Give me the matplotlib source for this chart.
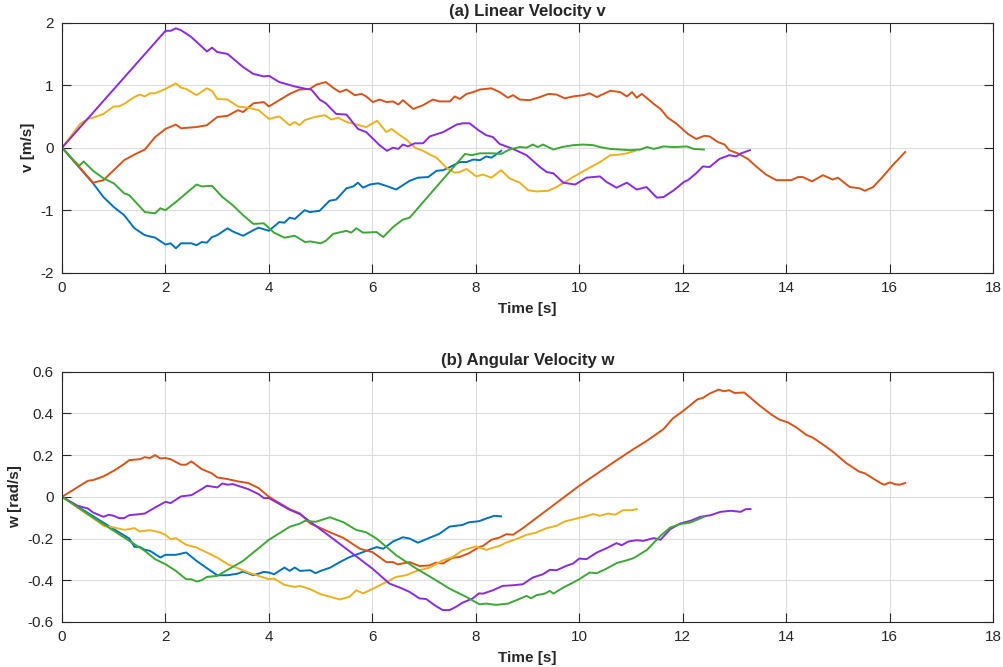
import numpy as np
import matplotlib
matplotlib.use('Agg')
from matplotlib import pyplot as plt
from matplotlib import ticker

plt.rcParams['font.family'] = ['Liberation Sans', 'DejaVu Sans']
plt.rcParams['axes.unicode_minus'] = False

# (t [s], v [m/s])
v_blue = [(0, 0), (0.6, -0.57), (0.8, -0.79), (1.0, -0.95), (1.2, -1.08), (1.4, -1.29), (1.6, -1.40),
          (1.8, -1.44), (2.0, -1.55), (2.1, -1.53), (2.2, -1.61), (2.3, -1.53), (2.5, -1.53), (2.6, -1.56),
          (2.7, -1.51), (2.8, -1.52), (2.9, -1.43), (3.0, -1.40), (3.2, -1.29), (3.3, -1.34), (3.5, -1.41),
          (3.7, -1.32), (3.8, -1.28), (4.0, -1.33), (4.2, -1.19), (4.3, -1.20), (4.4, -1.12), (4.5, -1.14),
          (4.69, -1.0), (4.79, -1.03), (4.98, -1.01), (5.17, -0.85), (5.3, -0.83), (5.5, -0.65), (5.63, -0.62),
          (5.72, -0.56), (5.82, -0.64), (5.95, -0.59), (6.11, -0.57), (6.3, -0.62), (6.46, -0.67), (6.72, -0.53),
          (6.88, -0.48), (7.08, -0.47), (7.24, -0.37), (7.37, -0.36), (7.5, -0.31), (7.69, -0.23), (7.82, -0.23),
          (7.95, -0.19), (8.08, -0.20), (8.2, -0.14), (8.3, -0.16), (8.39, -0.11), (8.49, -0.05)]
v_orange = [(0, 0), (0.6, -0.56), (0.8, -0.52), (1.0, -0.36), (1.2, -0.20), (1.4, -0.11), (1.6, -0.03),
            (1.8, 0.17), (2.0, 0.30), (2.2, 0.37), (2.3, 0.31), (2.6, 0.33), (2.8, 0.36), (3.0, 0.49), (3.2, 0.51),
            (3.4, 0.60), (3.5, 0.57), (3.7, 0.71), (3.9, 0.73), (4.0, 0.66), (4.2, 0.76), (4.4, 0.86), (4.59, 0.93),
            (4.79, 0.94), (4.92, 1.01), (5.1, 1.05), (5.24, 0.96), (5.37, 0.89), (5.5, 0.93), (5.66, 0.84),
            (5.79, 0.86), (5.88, 0.82), (6.01, 0.73), (6.14, 0.77), (6.27, 0.73), (6.4, 0.74), (6.5, 0.69),
            (6.59, 0.76), (6.79, 0.62), (6.98, 0.68), (7.17, 0.77), (7.3, 0.74), (7.5, 0.74), (7.59, 0.82),
            (7.69, 0.78), (7.82, 0.86), (7.95, 0.89), (8.08, 0.93), (8.3, 0.95), (8.46, 0.89), (8.62, 0.80),
            (8.72, 0.84), (8.85, 0.77), (9.04, 0.76), (9.24, 0.81), (9.4, 0.86), (9.56, 0.85), (9.72, 0.79),
            (9.88, 0.82), (10.08, 0.84), (10.2, 0.87), (10.34, 0.81), (10.6, 0.91), (10.79, 0.89), (10.92, 0.82),
            (11.02, 0.89), (11.11, 0.80), (11.21, 0.86), (11.44, 0.70), (11.57, 0.62), (11.71, 0.48), (11.87, 0.39),
            (12.1, 0.22), (12.26, 0.14), (12.42, 0.19), (12.52, 0.18), (12.68, 0.09), (12.81, 0.05), (12.9, -0.04),
            (13.06, -0.09), (13.26, -0.18), (13.42, -0.30), (13.61, -0.43), (13.81, -0.52), (14.1, -0.52),
            (14.23, -0.47), (14.32, -0.47), (14.5, -0.54), (14.71, -0.44), (14.9, -0.51), (15.0, -0.48),
            (15.23, -0.63), (15.42, -0.65), (15.52, -0.69), (15.68, -0.63), (15.84, -0.49), (16.06, -0.28),
            (16.3, -0.07)]
v_yellow = [(0, 0), (0.35, 0.38), (0.5, 0.46), (0.6, 0.48), (0.8, 0.54), (1.0, 0.66), (1.1, 0.66), (1.2, 0.70),
            (1.4, 0.81), (1.5, 0.85), (1.6, 0.82), (1.7, 0.87), (1.8, 0.87), (2.0, 0.94), (2.2, 1.03), (2.3, 0.96),
            (2.4, 0.94), (2.6, 0.84), (2.8, 0.95), (2.9, 0.91), (3.0, 0.78), (3.2, 0.77), (3.4, 0.66), (3.6, 0.64),
            (3.8, 0.60), (4.0, 0.46), (4.2, 0.50), (4.4, 0.36), (4.5, 0.41), (4.59, 0.36), (4.69, 0.44),
            (4.88, 0.49), (5.08, 0.52), (5.21, 0.45), (5.34, 0.48), (5.5, 0.41), (5.69, 0.37), (5.88, 0.33),
            (6.09, 0.43), (6.27, 0.25), (6.37, 0.30), (6.53, 0.20), (6.66, 0.13), (6.82, 0.0), (6.98, -0.05),
            (7.11, -0.11), (7.24, -0.16), (7.43, -0.32), (7.59, -0.40), (7.69, -0.39), (7.82, -0.34), (8.01, -0.46),
            (8.14, -0.43), (8.3, -0.48), (8.49, -0.36), (8.65, -0.49), (8.85, -0.56), (9.01, -0.68), (9.17, -0.70),
            (9.4, -0.69), (9.56, -0.63), (9.72, -0.55), (9.88, -0.47), (10.05, -0.39), (10.2, -0.32), (10.4, -0.23),
            (10.6, -0.12), (10.79, -0.11), (10.92, -0.09), (11.08, -0.05)]
v_purple = [(0, 0), (2.0, 1.87), (2.1, 1.87), (2.2, 1.91), (2.3, 1.88), (2.5, 1.77), (2.8, 1.54), (2.9, 1.60),
            (3.0, 1.53), (3.2, 1.50), (3.5, 1.29), (3.7, 1.18), (3.9, 1.14), (4.0, 1.15), (4.2, 1.05), (4.5, 0.98),
            (4.72, 0.94), (4.82, 0.93), (4.98, 0.77), (5.1, 0.71), (5.3, 0.54), (5.5, 0.53), (5.72, 0.30),
            (5.88, 0.25), (6.14, 0.04), (6.28, -0.05), (6.4, 0.0), (6.5, -0.02), (6.59, 0.05), (6.69, 0.02),
            (6.82, 0.07), (6.98, 0.07), (7.11, 0.18), (7.37, 0.25), (7.63, 0.37), (7.75, 0.39), (7.88, 0.39),
            (8.05, 0.28), (8.2, 0.20), (8.33, 0.17), (8.46, 0.06), (8.72, -0.02), (8.98, -0.12), (9.24, -0.31),
            (9.37, -0.39), (9.5, -0.41), (9.69, -0.56), (9.92, -0.59), (10.14, -0.48), (10.4, -0.46), (10.53, -0.55),
            (10.72, -0.64), (10.92, -0.56), (11.11, -0.67), (11.3, -0.63), (11.5, -0.80), (11.63, -0.79),
            (11.83, -0.68), (12.02, -0.55), (12.1, -0.52), (12.26, -0.41), (12.39, -0.30), (12.52, -0.31),
            (12.71, -0.18), (12.9, -0.12), (13.03, -0.14), (13.13, -0.09), (13.3, -0.04)]
v_green = [(0, 0), (0.2, -0.18), (0.33, -0.29), (0.42, -0.22), (0.6, -0.37), (0.8, -0.49), (1.0, -0.57),
           (1.2, -0.73), (1.3, -0.76), (1.6, -1.03), (1.8, -1.05), (1.9, -0.97), (2.0, -1.0), (2.2, -0.87),
           (2.4, -0.73), (2.6, -0.59), (2.7, -0.62), (2.9, -0.61), (3.1, -0.79), (3.3, -0.92), (3.5, -1.08),
           (3.7, -1.22), (3.9, -1.21), (4.1, -1.36), (4.3, -1.44), (4.5, -1.41), (4.7, -1.51), (4.8, -1.50),
           (5.0, -1.53), (5.1, -1.49), (5.24, -1.38), (5.5, -1.33), (5.59, -1.36), (5.69, -1.29), (5.82, -1.36),
           (6.08, -1.35), (6.21, -1.43), (6.4, -1.27), (6.59, -1.15), (6.72, -1.12), (7.79, -0.10), (7.92, -0.12),
           (8.08, -0.09), (8.33, -0.09), (8.49, -0.10), (8.65, -0.03), (8.85, 0.01), (8.98, 0.0), (9.1, 0.05),
           (9.2, 0.01), (9.3, 0.05), (9.5, -0.03), (9.66, 0.01), (9.88, 0.04), (10.08, 0.05), (10.27, 0.04),
           (10.4, 0.01), (10.6, -0.02), (10.79, -0.03), (10.98, -0.04), (11.18, -0.03), (11.31, 0.01),
           (11.44, -0.02), (11.63, 0.02), (11.83, 0.01), (12.08, 0.02), (12.21, -0.02), (12.41, -0.03)]

# (t [s], w [rad/s])
w_blue = [(0, 0), (1.0, -0.155), (1.3, -0.20), (1.4, -0.24), (1.5, -0.24), (1.6, -0.254), (1.7, -0.259),
          (1.9, -0.291), (2.0, -0.278), (2.2, -0.278), (2.4, -0.267), (2.6, -0.307), (2.8, -0.342), (3.0, -0.376),
          (3.2, -0.376), (3.4, -0.368), (3.5, -0.358), (3.7, -0.376), (3.9, -0.36), (4.0, -0.363), (4.1, -0.371),
          (4.3, -0.339), (4.4, -0.355), (4.5, -0.339), (4.6, -0.355), (4.8, -0.352), (4.9, -0.366), (5.0, -0.355),
          (5.18, -0.34), (5.37, -0.313), (5.56, -0.289), (5.82, -0.265), (6.08, -0.241), (6.21, -0.249),
          (6.4, -0.214), (6.59, -0.194), (6.72, -0.2), (6.88, -0.22), (7.1, -0.197), (7.29, -0.178),
          (7.49, -0.143), (7.74, -0.135), (7.87, -0.122), (8.06, -0.117), (8.2, -0.104), (8.36, -0.091),
          (8.49, -0.094)]
w_orange = [(0, 0), (0.5, 0.077), (0.6, 0.08), (0.8, 0.098), (1.0, 0.125), (1.2, 0.157), (1.3, 0.176),
            (1.5, 0.18), (1.6, 0.19), (1.7, 0.186), (1.8, 0.2), (1.9, 0.184), (2.0, 0.186), (2.1, 0.18),
            (2.3, 0.154), (2.4, 0.154), (2.5, 0.17), (2.7, 0.133), (2.9, 0.112), (3.0, 0.093), (3.2, 0.085),
            (3.4, 0.074), (3.6, 0.066), (3.8, 0.042), (4.0, 0.0), (4.4, -0.059), (4.6, -0.08), (4.8, -0.128),
            (5.0, -0.15), (5.18, -0.17), (5.44, -0.197), (5.76, -0.249), (6.0, -0.265), (6.27, -0.313),
            (6.4, -0.313), (6.49, -0.324), (6.72, -0.313), (6.91, -0.332), (7.1, -0.329), (7.23, -0.316),
            (7.36, -0.32), (7.55, -0.292), (7.68, -0.289), (7.87, -0.27), (8.06, -0.241), (8.14, -0.235),
            (8.3, -0.206), (8.46, -0.195), (8.59, -0.179), (8.72, -0.182), (8.91, -0.15), (10.0, 0.053),
            (10.66, 0.165), (11.05, 0.229), (11.31, 0.269), (11.63, 0.325), (11.81, 0.376), (12.0, 0.41),
            (12.29, 0.468), (12.39, 0.474), (12.52, 0.495), (12.7, 0.514), (12.79, 0.506), (12.9, 0.511),
            (13.0, 0.498), (13.19, 0.5), (13.48, 0.439), (13.71, 0.395), (13.87, 0.37), (14.03, 0.357),
            (14.19, 0.334), (14.39, 0.297), (14.52, 0.283), (14.71, 0.251), (14.9, 0.217), (15.16, 0.162),
            (15.41, 0.121), (15.52, 0.113), (15.68, 0.088), (15.84, 0.064), (15.9, 0.058), (16.0, 0.069),
            (16.1, 0.061), (16.19, 0.058), (16.3, 0.066)]
w_yellow = [(0, 0), (0.7, -0.12), (0.8, -0.139), (1.0, -0.147), (1.2, -0.158), (1.3, -0.155), (1.4, -0.15),
            (1.5, -0.166), (1.7, -0.16), (1.9, -0.171), (2.0, -0.182), (2.1, -0.203), (2.2, -0.198), (2.4, -0.23),
            (2.6, -0.243), (2.8, -0.267), (3.0, -0.291), (3.2, -0.323), (3.4, -0.342), (3.6, -0.363),
            (3.8, -0.379), (4.0, -0.395), (4.1, -0.392), (4.3, -0.422), (4.5, -0.432), (4.6, -0.427),
            (4.8, -0.443), (5.0, -0.467), (5.18, -0.479), (5.37, -0.492), (5.56, -0.479), (5.69, -0.448),
            (5.82, -0.463), (6.08, -0.432), (6.27, -0.408), (6.46, -0.384), (6.65, -0.376), (6.85, -0.356),
            (7.1, -0.34), (7.36, -0.305), (7.55, -0.289), (7.74, -0.257), (8.0, -0.238), (8.2, -0.254),
            (8.46, -0.235), (8.59, -0.219), (8.78, -0.203), (8.98, -0.182), (9.17, -0.171), (9.37, -0.15),
            (9.56, -0.139), (9.72, -0.118), (9.95, -0.104), (10.08, -0.096), (10.27, -0.083), (10.4, -0.091),
            (10.56, -0.08), (10.69, -0.086), (10.85, -0.064), (11.02, -0.064), (11.11, -0.059)]
w_purple = [(0, 0), (0.3, -0.043), (0.5, -0.056), (0.6, -0.075), (0.8, -0.096), (0.9, -0.086), (1.0, -0.091),
            (1.1, -0.102), (1.2, -0.102), (1.3, -0.088), (1.5, -0.083), (1.6, -0.08), (1.8, -0.051), (2.0, -0.024),
            (2.1, -0.03), (2.3, 0.002), (2.5, 0.008), (2.7, 0.037), (2.8, 0.053), (3.0, 0.045), (3.1, 0.064),
            (3.2, 0.058), (3.3, 0.061), (3.5, 0.045), (3.6, 0.037), (3.8, 0.013), (3.9, -0.006), (4.0, -0.006),
            (4.4, -0.062), (4.6, -0.083), (5.18, -0.19), (5.5, -0.25), (6.0, -0.344), (6.33, -0.416),
            (6.53, -0.435), (6.72, -0.456), (6.91, -0.487), (7.04, -0.49), (7.23, -0.524), (7.36, -0.543),
            (7.49, -0.543), (7.62, -0.527), (7.74, -0.508), (7.94, -0.487), (8.06, -0.463), (8.14, -0.464),
            (8.33, -0.448), (8.52, -0.427), (8.72, -0.424), (8.91, -0.419), (9.1, -0.387), (9.3, -0.371),
            (9.43, -0.35), (9.56, -0.352), (9.75, -0.331), (9.88, -0.32), (10.0, -0.296), (10.14, -0.299),
            (10.34, -0.267), (10.53, -0.246), (10.72, -0.222), (10.82, -0.232), (10.95, -0.214), (11.11, -0.208),
            (11.24, -0.211), (11.44, -0.198), (11.57, -0.206), (11.76, -0.155), (11.95, -0.128), (12.15, -0.115),
            (12.34, -0.096), (12.54, -0.088), (12.73, -0.072), (12.93, -0.067), (13.12, -0.072), (13.22, -0.059),
            (13.31, -0.059)]
w_green = [(0, 0), (0.6, -0.099), (1.0, -0.163), (1.3, -0.211), (1.6, -0.259), (1.8, -0.299), (2.0, -0.323),
           (2.2, -0.355), (2.4, -0.395), (2.5, -0.395), (2.6, -0.406), (2.7, -0.4), (2.8, -0.384), (3.0, -0.379),
           (3.5, -0.307), (4.0, -0.206), (4.4, -0.144), (4.6, -0.128), (4.7, -0.115), (4.9, -0.12),
           (5.18, -0.098), (5.44, -0.122), (5.69, -0.159), (5.88, -0.17), (6.08, -0.2), (6.46, -0.28),
           (6.85, -0.344), (7.23, -0.4), (7.49, -0.44), (7.81, -0.479), (8.07, -0.515), (8.2, -0.512),
           (8.39, -0.518), (8.62, -0.512), (8.78, -0.496), (8.98, -0.475), (9.07, -0.486), (9.17, -0.472),
           (9.33, -0.464), (9.43, -0.451), (9.5, -0.464), (9.69, -0.435), (9.88, -0.411), (10.0, -0.395),
           (10.2, -0.363), (10.34, -0.366), (10.53, -0.344), (10.72, -0.318), (10.92, -0.304), (11.05, -0.294),
           (11.31, -0.254), (11.57, -0.187), (11.76, -0.147), (11.95, -0.131), (12.15, -0.123), (12.41, -0.096)]

colors = ['#0072BD', '#D95319', '#EDB120', '#8A2BE2', '#3DA835']
v_series = [v_blue, v_orange, v_yellow, v_purple, v_green]
w_series = [w_blue, w_orange, w_yellow, w_purple, w_green]

fig = plt.figure(figsize=(10.04, 6.67), dpi=100)
ax1 = fig.add_axes([0.0618, 0.5912, 0.9273, 0.3748])
ax2 = fig.add_axes([0.0618, 0.0675, 0.9273, 0.3753])


def style_axes(ax, yticks, title, ylabel):
    ax.set_xlim(0, 18)
    ax.set_xticks(np.arange(0, 19, 2))
    ax.set_ylim(yticks[0], yticks[-1])
    ax.set_yticks(yticks)
    ax.yaxis.set_major_formatter(ticker.FuncFormatter(lambda y, p: '%g' % round(y, 2)))
    ax.grid(True, color='#DCDCDC', linewidth=0.8)
    ax.set_axisbelow(True)
    for s in ax.spines.values():
        s.set_color('#262626')
        s.set_linewidth(0.8)
    ax.tick_params(direction='in', length=6.5, width=0.8, colors='#262626', labelsize=11,
                   top=True, right=True, pad=6)
    ax.set_title(title, fontsize=12.1, fontweight='bold', color='#262626', pad=5)
    ax.set_xlabel('Time [s]', fontsize=11, fontweight='bold', color='#262626', labelpad=5)
    ax.set_ylabel(ylabel, fontsize=11, fontweight='bold', color='#262626', labelpad=4)


for pts, c in zip(v_series, colors):
    t, v = np.array(pts).T
    ax1.plot(t, v, color=c, linewidth=1.4)
style_axes(ax1, [-2, -1, 0, 1, 2], '(a) Linear Velocity v', 'v [m/s]')

for pts, c in zip(w_series, colors):
    t, w = np.array(pts).T
    ax2.plot(t, w, color=c, linewidth=1.4)
style_axes(ax2, [-0.6, -0.4, -0.2, 0, 0.2, 0.4, 0.6], '(b) Angular Velocity w', 'w [rad/s]')

fig.savefig('out.png', dpi=100)
